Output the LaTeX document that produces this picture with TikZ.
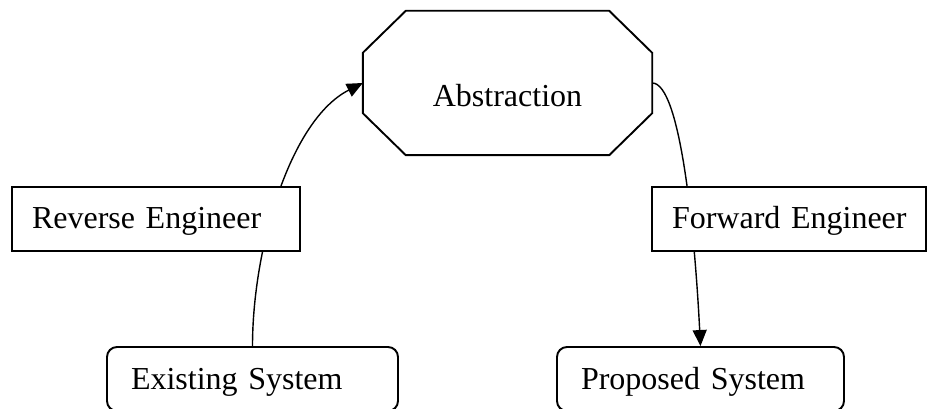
\documentclass[tikz,border=0pt]{standalone}
\usepackage{fontspec}
\setmainfont{Liberation Serif}
\usetikzlibrary{arrows.meta,backgrounds}
\tikzset{
  boxtext/.style={font=\fontsize{32}{38}\selectfont, text=black},
  engbox/.style={boxtext, draw=black, fill=white, line width=1.9pt,
    minimum height=64pt, inner xsep=20pt, align=left,
    text height=22pt, text depth=2pt},
  sysbox/.style={engbox, rounded corners=10pt, inner xsep=24pt},
  absbox/.style={boxtext, minimum width=289pt, minimum height=144pt,
    text height=48pt, text depth=0pt},
  octline/.style={draw=black, line width=1.9pt, line join=miter},
  flow/.style={draw=black, line width=1.4pt},
  flowtip/.style={flow, -{Triangle[length=16pt,width=14pt]}}
}
\begin{document}
\begin{tikzpicture}[x=1pt,y=-1pt]
  \useasboundingbox (0,0) rectangle (927,409);

  % abstraction in the middle, cut corners drawn round the node
  \node[absbox] (abstr) at (507.5,83) {Abstraction};
  \draw[octline] ([xshift=43pt]abstr.north west) -- ([xshift=-43pt]abstr.north east)
    -- ([yshift=-42pt]abstr.north east) -- ([yshift=42pt]abstr.south east)
    -- ([xshift=-43pt]abstr.south east) -- ([xshift=43pt]abstr.south west)
    -- ([yshift=42pt]abstr.south west) -- ([yshift=-42pt]abstr.north west) -- cycle;

  \node[engbox, text width=248pt] (rev) at (156,219) {\mbox{Reverse Engineer}};
  \node[engbox, text width=234pt] (fwd) at (789,219) {\mbox{Forward Engineer}};
  \node[sysbox, text width=243pt] (exist) at (252.5,379) {\mbox{Existing System}};
  \node[sysbox, text width=239pt] (prop) at (700.5,379) {\mbox{Proposed System}};

  \begin{pgfonlayer}{background}
    \draw[flowtip] (exist.north) .. controls +(0,-97) and +(-73,37) .. (abstr.west);
    \draw[flowtip] (abstr.east) .. controls +(28,0) and +(-6,-117) .. (prop.north);
  \end{pgfonlayer}
\end{tikzpicture}
\end{document}
